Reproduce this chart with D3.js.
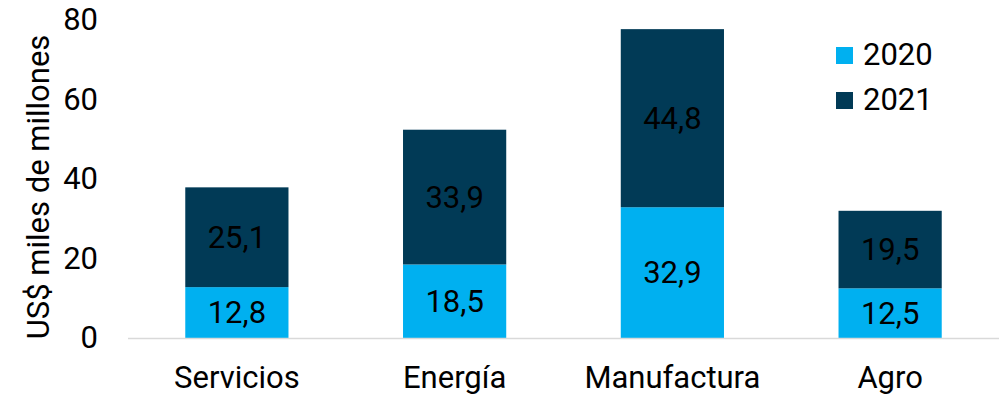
<!DOCTYPE html>
<html>
<head>
<meta charset="utf-8">
<script src="https://cdn.jsdelivr.net/npm/d3@7"></script>
<style>
  html, body { margin: 0; padding: 0; background: #fff; }
  svg { display: block; font-family: Roboto, "Noto Sans", sans-serif; }
</style>
</head>
<body>
<svg id="chart" width="1007" height="395"></svg>
<script>
// Sectors and yearly amounts (US$ miles de millones)
const categories = ["Servicios", "Energía", "Manufactura", "Agro"];
const values2020 = [12.8, 18.5, 32.9, 12.5];
const values2021 = [25.1, 33.9, 44.8, 19.5];
const seriesNames = ["2020", "2021"];
const yTicks = [0, 20, 40, 60, 80];

const colors = { "2020": "#00B0F0", "2021": "#013A56" };
const FS = 31;

const svg = d3.select("#chart");
const plotLeft = 128, plotRight = 999;
const baseY = 338;

const x = d3.scaleBand()
  .domain(categories)
  .range([plotLeft, plotRight])
  .paddingInner(0.526)
  .paddingOuter(0.263);

const y = d3.scaleLinear().domain([0, 80]).range([baseY, 20]);

// stacked rows
const rows = categories.map((c, i) => ({ cat: c, "2020": values2020[i], "2021": values2021[i] }));
const stack = d3.stack().keys(seriesNames)(rows);

const fmt = v => d3.format(".1f")(v).replace(".", ",");

// Bars
const layers = svg.append("g").selectAll("g")
  .data(stack).join("g")
  .attr("fill", d => colors[d.key]);

layers.selectAll("rect")
  .data(d => d)
  .join("rect")
  .attr("x", d => x(d.data.cat))
  .attr("width", x.bandwidth())
  .attr("y", d => y(d[1]))
  .attr("height", d => y(d[0]) - y(d[1]));

// Segment value labels
stack.forEach(layer => {
  svg.append("g").selectAll("text")
    .data(layer).join("text")
    .attr("x", d => x(d.data.cat) + x.bandwidth() / 2)
    .attr("y", d => (y(d[0]) + y(d[1])) / 2)
    .attr("dy", "0.35em")
    .attr("text-anchor", "middle")
    .attr("font-size", FS)
    .attr("fill", "#000")
    .text(d => fmt(d[1] - d[0]));
});

// Baseline
svg.append("line")
  .attr("x1", plotLeft).attr("x2", plotRight)
  .attr("y1", baseY + 0.5).attr("y2", baseY + 0.5)
  .attr("stroke", "#d9d9d9").attr("stroke-width", 1.5);

// Y axis tick labels
const yAxis = d3.axisLeft(y).tickValues(yTicks).tickSize(0).tickPadding(0);
const gy = svg.append("g").attr("transform", "translate(98,0)").call(yAxis);
gy.select(".domain").remove();
gy.selectAll("text")
  .attr("font-size", FS)
  .attr("font-family", "Roboto, sans-serif")
  .attr("fill", "#000");

// X axis category labels
const xAxis = d3.axisBottom(x).tickSize(0).tickPadding(0);
const gx = svg.append("g").attr("transform", `translate(0,${baseY})`).call(xAxis);
gx.select(".domain").remove();
gx.selectAll("text")
  .attr("font-size", FS)
  .attr("font-family", "Roboto, sans-serif")
  .attr("fill", "#000")
  .attr("dy", null)
  .attr("y", 50);

// Y axis title
svg.append("text")
  .attr("transform", `translate(49,187) rotate(-90)`)
  .attr("text-anchor", "middle")
  .attr("font-size", FS)
  .attr("fill", "#000")
  .text("US$ miles de millones");

// Legend
const legend = svg.append("g").attr("transform", "translate(836,47)");
seriesNames.forEach((s, i) => {
  const g = legend.append("g").attr("transform", `translate(0,${i * 45})`);
  g.append("rect").attr("width", 17).attr("height", 17).attr("fill", colors[s]);
  g.append("text")
    .attr("x", 27).attr("y", 8.5).attr("dy", "0.32em")
    .attr("font-size", FS).attr("fill", "#000")
    .text(s);
});
</script>
</body>
</html>
